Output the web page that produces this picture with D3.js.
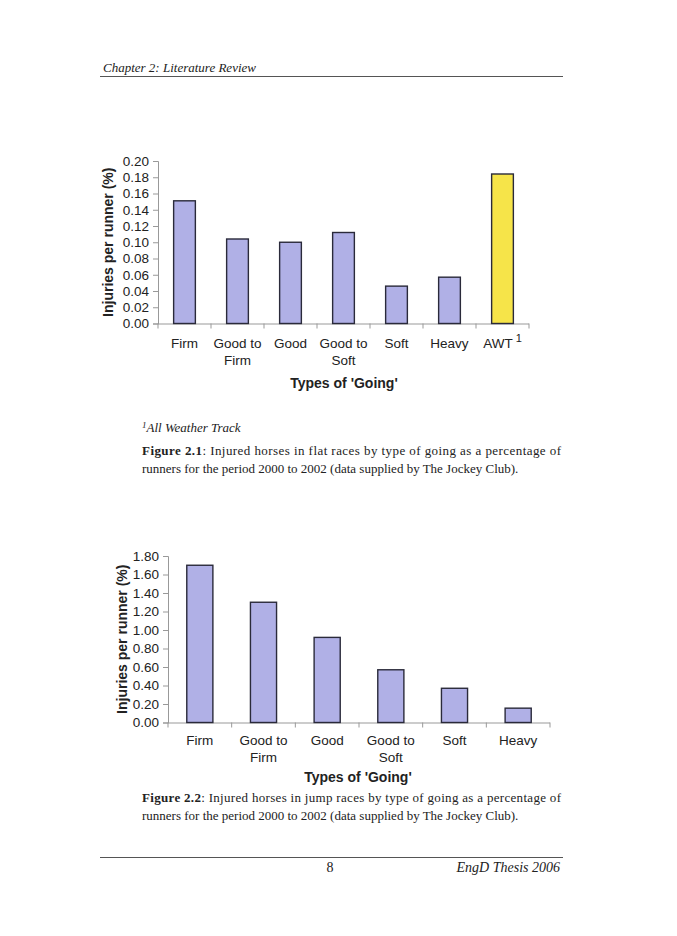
<!DOCTYPE html>
<html><head><meta charset="utf-8">
<script src="https://cdn.jsdelivr.net/npm/d3@7"></script>
<style>body{margin:0;background:#fff}svg{display:block}</style>
</head><body>
<script>
// Figure 2.1 – flat races
const flatCategories = ["Firm","Good to Firm","Good","Good to Soft","Soft","Heavy","AWT"];
const flatValues = [0.151, 0.104, 0.100, 0.112, 0.046, 0.057, 0.184];
const flatTicks = [0,0.02,0.04,0.06,0.08,0.10,0.12,0.14,0.16,0.18,0.20];
// Figure 2.2 – jump races
const jumpCategories = ["Firm","Good to Firm","Good","Good to Soft","Soft","Heavy"];
const jumpValues = [1.70, 1.30, 0.92, 0.57, 0.37, 0.155];
const jumpTicks = [0,0.2,0.4,0.6,0.8,1.0,1.2,1.4,1.6,1.8];

const W=677,H=936;
const svg=d3.select("body").append("svg").attr("width",W).attr("height",H);
const serif="'Liberation Serif','Times New Roman',serif";
const sans="'Liberation Sans',Arial,sans-serif";

// header / footer
svg.append("text").attr("x",103).attr("y",72).attr("font-family",serif).attr("font-style","italic")
  .attr("font-size",13).attr("fill","#222").text("Chapter 2: Literature Review");
svg.append("line").attr("x1",100).attr("x2",563).attr("y1",76.5).attr("y2",76.5).attr("stroke","#555").attr("stroke-width",1);
svg.append("line").attr("x1",100).attr("x2",563).attr("y1",857.5).attr("y2",857.5).attr("stroke","#555").attr("stroke-width",1);
svg.append("text").attr("x",330).attr("y",872).attr("text-anchor","middle").attr("font-family",serif)
  .attr("font-size",14).attr("fill","#222").text("8");
svg.append("text").attr("x",560).attr("y",872).attr("text-anchor","end").attr("font-family",serif).attr("font-style","italic")
  .attr("font-size",14).attr("fill","#222").text("EngD Thesis 2006");

function chart(o){
  const x=d3.scaleBand().domain(o.cats).range([o.x0,o.x1]).paddingInner(o.pad).paddingOuter(o.pad/2);
  const y=d3.scaleLinear().domain([0,o.max]).range([o.y0,o.y1]);
  const g=svg.append("g");
  // y axis
  const ya=g.append("g").attr("transform",`translate(${o.x0},0)`)
    .call(d3.axisLeft(y).tickValues(o.ticks).tickFormat(d3.format(".2f")).tickSize(5).tickPadding(4));
  ya.select(".domain").attr("stroke","#999");
  ya.selectAll(".tick line").attr("stroke","#999");
  ya.selectAll("text").attr("font-family",sans).attr("font-size",13.5).attr("fill","#222");
  // x axis baseline with boundary ticks
  g.append("line").attr("x1",o.x0).attr("x2",o.x1).attr("y1",o.y0+0.5).attr("y2",o.y0+0.5).attr("stroke","#999");
  const bounds=o.cats.map((c,i)=>x(c)-x.step()*x.paddingInner()/2).concat([o.x1]);
  g.selectAll(".xt").data(bounds).join("line").attr("x1",d=>d).attr("x2",d=>d)
    .attr("y1",o.y0).attr("y2",o.y0+5).attr("stroke","#999");
  // bars
  g.selectAll("rect").data(o.cats).join("rect")
    .attr("x",c=>x(c)).attr("width",x.bandwidth())
    .attr("y",(c,i)=>y(o.vals[i])).attr("height",(c,i)=>y(0)-y(o.vals[i]))
    .attr("fill",(c,i)=>o.colors?o.colors[i]:"#b0b0e6").attr("stroke","#2a2a3a").attr("stroke-width",1.4);
  // category labels
  o.cats.forEach(c=>{
    const cx=x(c)+x.bandwidth()/2;
    let lines=c.startsWith("Good to ")?["Good to",c.slice(8)]:[c];
    lines.forEach((l,k)=>{
      const t=g.append("text").attr("x",cx).attr("y",o.y0+o.lab+k*17).attr("text-anchor","middle")
        .attr("font-family",sans).attr("font-size",13.5).attr("fill","#222").text(l);
      if(c==="AWT"){t.append("tspan").attr("dy",-6).attr("dx",3).attr("font-size",11).text("1");}
    });
  });
  g.append("text").attr("x",o.tx).attr("y",o.ty).attr("text-anchor","middle").attr("font-family",sans)
    .attr("font-weight","bold").attr("font-size",14).attr("fill","#222").text("Types of 'Going'");
  g.append("text").attr("transform",`translate(${o.yx},${(o.y0+o.y1)/2}) rotate(-90)`).attr("text-anchor","middle")
    .attr("font-family",sans).attr("font-weight","bold").attr("font-size",14).attr("fill","#222").text("Injuries per runner (%)");
}

chart({cats:flatCategories,vals:flatValues,ticks:flatTicks,max:0.20,x0:158,x1:529,y0:323.5,y1:161,pad:0.59,
  colors:flatCategories.map(c=>c==="AWT"?"#f6e449":"#b0b0e6"),lab:24,tx:344,ty:388,yx:113});
chart({cats:jumpCategories,vals:jumpValues,ticks:jumpTicks,max:1.8,x0:168,x1:550,y0:722.5,y1:556,pad:0.59,
  lab:22,tx:358,ty:782,yx:127});

// captions
function para(x,y,w,lines,fs){
  lines.forEach((ln,i)=>{
    const t=svg.append("text").attr("x",x).attr("y",y+i*17.5).attr("font-family",serif).attr("font-size",fs).attr("fill","#222");
    ln.forEach(s=>t.append("tspan").attr("font-weight",s.b?"bold":null).attr("font-style",s.i?"italic":null).text(s.t));
    if(ln.justify){t.attr("textLength",w).attr("lengthAdjust","spacing");}
  });
}
const fn=svg.append("text").attr("x",142).attr("y",432).attr("font-family",serif).attr("font-style","italic").attr("font-size",13).attr("fill","#222");
fn.append("tspan").attr("font-size",9).attr("dy",-4).text("1");
fn.append("tspan").attr("dy",4).text("All Weather Track");

const l1=[{t:"Figure 2.1",b:1},{t:": Injured horses in flat races by type of going as a percentage of"}];l1.justify=true;
para(142,455,419,[l1,[{t:"runners for the period 2000 to 2002 (data supplied by The Jockey Club)."}]],13);
const l2=[{t:"Figure 2.2",b:1},{t:": Injured horses in jump races by type of going as a percentage of"}];l2.justify=true;
para(142,802,419,[l2,[{t:"runners for the period 2000 to 2002 (data supplied by The Jockey Club)."}]],13);
</script>
</body></html>
